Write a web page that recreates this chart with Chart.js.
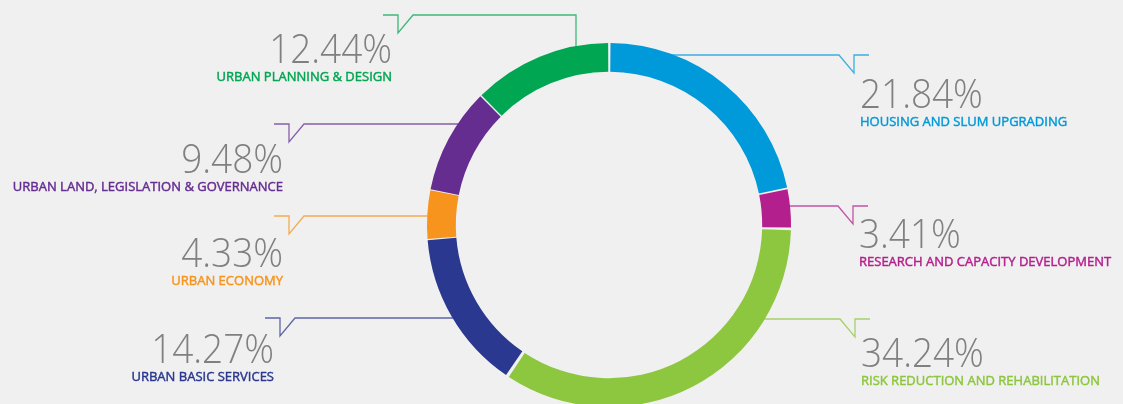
<!DOCTYPE html>
<html lang="en">
<head>
    <meta charset="UTF-8">
    <title>Share by thematic area</title>
    <style>
        body {
            margin: 0;
            padding: 0;
            background-color: #f0f0f0;
            overflow: hidden;
        }

        .chart-container {
            position: relative;
            width: 1123px;
            height: 404px;
        }
    </style>
</head>
<body>
    <div class="chart-container">
        <canvas id="shareChart"></canvas>
    </div>

    <script src="https://cdn.jsdelivr.net/npm/chart.js"></script>
    <script>
        // Data, clockwise from 12 o'clock
        const categories = [
            'HOUSING AND SLUM UPGRADING',
            'RESEARCH AND CAPACITY DEVELOPMENT',
            'RISK REDUCTION AND REHABILITATION',
            'URBAN BASIC SERVICES',
            'URBAN ECONOMY',
            'URBAN LAND, LEGISLATION & GOVERNANCE',
            'URBAN PLANNING & DESIGN'
        ];
        const shares = [21.84, 3.41, 34.24, 14.27, 4.33, 9.48, 12.44];
        const colors = ['#009ada', '#b41f8e', '#8dc63f', '#2b388f', '#f7941d', '#662d91', '#00a651'];

        // Callout placement (leader line height, notch x, value baseline)
        const callouts = [
            { side: 'right', lineY: 55, notchX: 854, valueY: 108 },
            { side: 'right', lineY: 206, notchX: 853, valueY: 248 },
            { side: 'right', lineY: 319, notchX: 855, valueY: 367 },
            { side: 'left', lineY: 318, notchX: 280, valueY: 363 },
            { side: 'left', lineY: 216, notchX: 289, valueY: 267 },
            { side: 'left', lineY: 124, notchX: 289, valueY: 173 },
            { side: 'left', lineY: 15, notchX: 398, valueY: 63, riseX: 576 }
        ];

        const calloutPlugin = {
            id: 'callouts',
            afterDatasetsDraw(chart) {
                const ctx = chart.ctx;
                const arcs = chart.getDatasetMeta(0).data;
                ctx.save();
                callouts.forEach((c, i) => {
                    const arc = arcs[i];
                    const cx = arc.x, cy = arc.y, r = arc.outerRadius;
                    const dir = c.side === 'right' ? 1 : -1;
                    ctx.strokeStyle = colors[i];
                    ctx.globalAlpha = 0.75;
                    ctx.lineWidth = 1.3;
                    ctx.beginPath();
                    if (c.riseX !== undefined) {
                        const dy = Math.sqrt(r * r - (c.riseX - cx) * (c.riseX - cx));
                        ctx.moveTo(c.riseX, cy - dy + 2);
                        ctx.lineTo(c.riseX, c.lineY);
                    } else {
                        const dx = Math.sqrt(Math.max(r * r - (c.lineY - cy) * (c.lineY - cy), 0));
                        ctx.moveTo(cx + dir * (dx - 2), c.lineY);
                    }
                    ctx.lineTo(c.notchX - dir * 15, c.lineY);
                    ctx.lineTo(c.notchX, c.lineY + 18);
                    ctx.lineTo(c.notchX, c.lineY);
                    ctx.lineTo(c.notchX + dir * 15, c.lineY);
                    ctx.stroke();
                    ctx.globalAlpha = 1;

                    const tx = c.notchX + dir * 6;
                    ctx.textAlign = c.side === 'right' ? 'left' : 'right';
                    ctx.textBaseline = 'alphabetic';
                    // big percentage, slightly condensed
                    ctx.save();
                    ctx.translate(tx, c.valueY);
                    ctx.scale(0.9, 1);
                    ctx.fillStyle = '#808080';
                    ctx.font = '300 41px "Open Sans", Lato, sans-serif';
                    ctx.fillText(shares[i].toFixed(2) + '%', 0, 0);
                    ctx.restore();
                    // category name, a touch heavier than regular
                    ctx.fillStyle = colors[i];
                    ctx.strokeStyle = colors[i];
                    ctx.lineWidth = 0.45;
                    ctx.font = '13px "Open Sans", sans-serif';
                    ctx.fillText(categories[i], tx, c.valueY + 18);
                    ctx.strokeText(categories[i], tx, c.valueY + 18);
                });
                ctx.restore();
            }
        };

        const ctx = document.getElementById('shareChart').getContext('2d');
        new Chart(ctx, {
            type: 'doughnut',
            data: {
                labels: categories,
                datasets: [{
                    data: shares,
                    backgroundColor: colors,
                    borderWidth: 0,
                    spacing: 4
                }]
            },
            options: {
                responsive: true,
                maintainAspectRatio: false,
                animation: false,
                radius: 180,
                cutout: '84%',
                layout: {
                    padding: { left: 95, top: 46, right: 0, bottom: 0 }
                },
                plugins: {
                    legend: { display: false },
                    tooltip: { enabled: false }
                }
            },
            plugins: [calloutPlugin]
        });
    </script>
</body>
</html>
